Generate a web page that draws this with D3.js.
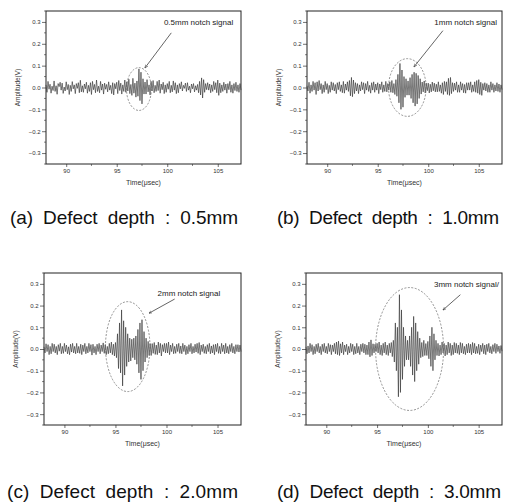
<!DOCTYPE html>
<html><head><meta charset="utf-8">
<script src="https://cdn.jsdelivr.net/npm/d3@7"></script>
<style>body{margin:0;background:#fff}svg{display:block}</style>
</head><body>
<svg id="c" width="505" height="503"></svg>
<script>
// ---- data (sampled every 0.1 µs starting at 88.0 µs) ----
const sampleStart = 88.0, sampleStep = 0.1;
const xTicks = [90, 95, 100, 105];
const yTicks = [-0.3, -0.2, -0.1, 0.0, 0.1, 0.2, 0.3];
const captions = ["(a) Defect depth : 0.5mm", "(b) Defect depth : 1.0mm", "(c) Defect depth : 2.0mm", "(d) Defect depth : 3.0mm"];
const notes = ["0.5mm notch signal", "1mm notch signal", "2mm notch signal", "3mm notch signal/"];

const signalA = [
 .012,-.022,.028,-.008,.015,-.026,.006,-.014,.030,-.018,
 .008,-.031,.018,.004,.024,-.012,.020,-.027,.002,-.016,
 .026,-.010,.014,-.032,.010,-.018,.027,-.006,.012,-.028,
 .018,-.004,.022,-.024,.033,-.020,.008,-.022,.016,-.006,
 .024,-.026,.010,-.018,.022,-.032,.028,-.010,.014,-.024,
 .034,-.018,.006,-.024,.028,-.012,.016,-.030,.020,-.008,
 .014,-.020,.026,-.012,.010,-.028,.022,-.034,.018,-.006,
 .024,-.028,.032,-.014,.020,-.030,.012,-.018,.034,-.022,
 .026,-.016,.038,-.028,.014,-.036,.042,-.026,.020,-.044,
 .030,-.040,.085,-.060,.070,-.075,.040,-.030,.025,-.030,
 .036,-.020,.012,-.034,.028,-.016,.032,-.024,.010,-.018,
 .028,-.014,.034,-.026,.016,-.010,.024,-.028,.012,-.022,
 .018,-.008,.028,-.024,.010,-.020,.030,-.012,.022,-.028,
 .012,-.024,.018,-.006,.026,-.016,.010,-.004,.020,-.018,
 .022,-.012,.006,-.024,.016,-.006,.018,-.020,.008,-.012,
 .014,-.024,.028,-.034,.044,-.048,.036,-.022,.018,-.010,
 .022,-.012,.016,-.024,.012,-.018,.028,-.010,.022,-.024,
 .034,-.036,.020,-.024,.012,-.018,.024,-.012,.016,-.026,
 .018,-.010,.028,-.022,.012,-.026,.018,-.014,.024,-.018,
 .012,-.022,.018,-.012];

const signalB = [
 .008,-.016,.024,-.026,.012,-.018,.028,-.012,.022,-.032,
 .026,-.016,.032,-.010,.018,-.028,.012,-.022,.028,-.010,
 .018,-.028,.010,-.022,.026,-.012,.022,-.016,.014,-.028,
 .022,-.010,.026,-.018,.012,-.024,.028,-.026,.016,-.012,
 .026,-.018,.032,-.038,.046,-.042,.034,-.028,.022,-.016,
 .018,-.028,.012,-.016,.026,-.010,.022,-.028,.018,-.012,
 .028,-.018,.010,-.026,.022,-.012,.026,-.022,.016,-.012,
 .022,-.028,.016,-.010,.026,-.022,.012,-.018,.028,-.020,
 .018,-.012,.026,-.022,.032,-.024,.018,-.032,.036,-.040,
 .060,-.070,.110,-.100,.080,-.090,.050,-.045,.040,-.035,
 .030,-.035,.045,-.050,.060,-.070,.070,-.085,.065,-.075,
 .055,-.050,.040,-.030,.025,-.020,.030,-.025,.020,-.015,
 .020,-.025,.015,-.020,.025,-.015,.020,-.020,.015,-.020,
 .026,-.018,.012,-.026,.022,-.032,.028,-.018,.026,-.032,
 .042,-.036,.046,-.028,.022,-.018,.020,-.012,.026,-.022,
 .012,-.022,.026,-.012,.018,-.024,.014,-.026,.022,-.012,
 .022,-.012,.026,-.022,.012,-.018,.026,-.022,.032,-.026,
 .036,-.032,.024,-.036,.018,-.012,.022,-.016,.018,-.022,
 .012,-.022,.026,-.012,.018,-.022,.012,-.016,.022,-.018,
 .016,-.022,.012,-.010];

const signalC = [
 .010,-.018,.024,-.012,.020,-.026,.012,-.022,.026,-.012,
 .022,-.018,.012,-.026,.020,-.010,.026,-.022,.012,-.020,
 .026,-.012,.018,-.022,.010,-.026,.022,-.014,.026,-.018,
 .012,-.022,.026,-.018,.012,-.020,.022,-.026,.018,-.012,
 .026,-.022,.012,-.018,.026,-.012,.020,-.028,.022,-.018,
 .012,-.026,.022,-.012,.026,-.022,.018,-.012,.028,-.020,
 .020,-.026,.012,-.022,.026,-.018,.032,-.026,.022,-.032,
 .030,-.040,.070,-.090,.120,-.110,.180,-.170,.130,-.120,
 .100,-.080,.070,-.060,.050,-.055,.045,-.040,.050,-.050,
 .060,-.070,.090,-.110,.120,-.140,.135,-.100,.080,-.060,
 .050,-.040,.035,-.030,.025,-.030,.025,-.020,.030,-.025,
 .018,-.026,.032,-.018,.026,-.032,.020,-.012,.026,-.018,
 .026,-.018,.032,-.026,.018,-.012,.026,-.022,.012,-.020,
 .022,-.012,.026,-.020,.014,-.022,.026,-.012,.018,-.026,
 .012,-.022,.020,-.012,.026,-.022,.012,-.018,.022,-.014,
 .026,-.020,.030,-.026,.018,-.012,.022,-.020,.012,-.022,
 .020,-.012,.026,-.022,.014,-.018,.020,-.026,.022,-.012,
 .026,-.020,.012,-.022,.026,-.012,.018,-.022,.026,-.018,
 .012,-.022,.020,-.012,.026,-.018,.012,-.022,.020,-.012,
 .020,-.014,.018,-.012];

const signalD = [
 .010,-.022,.014,-.018,.026,-.012,.020,-.026,.012,-.022,
 .022,-.012,.026,-.018,.012,-.026,.022,-.012,.026,-.018,
 .012,-.022,.026,-.012,.020,-.026,.018,-.012,.026,-.022,
 .032,-.026,.036,-.030,.024,-.018,.032,-.026,.018,-.012,
 .022,-.026,.012,-.018,.026,-.012,.022,-.026,.012,-.022,
 .026,-.018,.012,-.026,.022,-.012,.026,-.018,.022,-.026,
 .018,-.026,.032,-.036,.042,-.030,.024,-.018,.022,-.012,
 .026,-.018,.032,-.026,.018,-.030,.026,-.018,.032,-.026,
 .018,-.030,.026,-.018,.030,-.035,.040,-.060,.120,-.100,
 .100,-.220,.250,-.200,.180,-.140,.100,-.080,.060,-.050,
 .040,-.050,.060,-.080,.100,-.120,.150,-.150,.120,-.100,
 .080,-.070,.050,-.040,.030,-.035,.040,-.030,.025,-.030,
 .035,-.045,.060,-.080,.100,-.100,.070,-.050,.040,-.030,
 .026,-.032,.018,-.026,.032,-.018,.026,-.032,.018,-.026,
 .032,-.018,.026,-.030,.018,-.026,.030,-.018,.026,-.020,
 .018,-.026,.030,-.018,.026,-.022,.012,-.026,.022,-.018,
 .026,-.018,.022,-.026,.030,-.018,.026,-.022,.012,-.020,
 .022,-.026,.018,-.012,.026,-.022,.018,-.026,.022,-.012,
 .026,-.018,.012,-.022,.020,-.012,.026,-.020,.022,-.012,
 .014,-.020,.016,-.010];

// annotation ellipses (data units: centre time, centre V, half-width µs, half-height V)
const ellipses = [
  {cx: 97.2, cy: -0.007, rx: 1.23, ry: 0.098},
  {cx: 97.93, cy: 0.0, rx: 1.86, ry: 0.132},
  {cx: 96.2, cy: 0.011, rx: 2.18, ry: 0.207},
  {cx: 98.2, cy: 0.0, rx: 3.35, ry: 0.283}];
const noteAnchors = [
  {tx: 103.1, ty: 0.30, x1: 100.4, y1: 0.25, x2: 97.8, y2: 0.09},
  {tx: 103.7, ty: 0.30, x1: 101.45, y1: 0.26, x2: 98.6, y2: 0.095},
  {tx: 102.2, ty: 0.255, x1: 100.8, y1: 0.23, x2: 98.3, y2: 0.165},
  {tx: 103.8, ty: 0.30, x1: 103.2, y1: 0.25, x2: 101.5, y2: 0.18}];

const signals = [signalA, signalB, signalC, signalD];

// ---- layout ----
const panels = [
  {l: 46, r: 241, t: 11, b: 164, cap: {x: 10, y: 224, w: 228}},
  {l: 307, r: 502, t: 11, b: 164, cap: {x: 277, y: 224, w: 222}},
  {l: 44, r: 241, t: 273, b: 425, cap: {x: 7, y: 498, w: 231}},
  {l: 306, r: 502, t: 273, b: 425, cap: {x: 277, y: 498, w: 224}}];

const svg = d3.select("#c");
svg.append("defs").append("marker").attr("id", "ah").attr("viewBox", "0 0 10 10")
  .attr("refX", 9).attr("refY", 5).attr("markerWidth", 5).attr("markerHeight", 5)
  .attr("orient", "auto").append("path").attr("d", "M0,1L10,5L0,9").attr("fill", "none")
  .attr("stroke", "#222").attr("stroke-width", 1.2);

panels.forEach((p, i) => {
  const x = d3.scaleLinear().domain([88, 107.3]).range([p.l, p.r]);
  const y = d3.scaleLinear().domain([-0.35, 0.35]).range([p.b, p.t]);
  const g = svg.append("g");

  // axes
  const yAx = d3.axisLeft(y).tickValues(yTicks).tickSize(4).tickPadding(1.5)
    .tickFormat(d3.format(".1f"));
  const gy = g.append("g").attr("transform", `translate(${p.l},0)`).call(yAx);
  const xAx = d3.axisBottom(x).tickValues(xTicks).tickSize(3).tickPadding(2);
  const gx = g.append("g").attr("transform", `translate(0,${p.b})`).call(xAx);
  [gy, gx].forEach(a => {
    a.select(".domain").remove();
    a.selectAll("line").attr("stroke", "#333").attr("stroke-width", 0.7);
    a.selectAll("text").attr("font-family", "Liberation Sans, Arial, sans-serif")
      .attr("font-size", 6).attr("fill", "#333");
  });
  // minor ticks
  const minorY = d3.range(-0.35, 0.351, 0.05).filter(v => Math.abs(Math.round(v * 10) - v * 10) > 0.1);
  g.append("g").selectAll("line").data(minorY).join("line")
    .attr("x1", p.l - 2).attr("x2", p.l).attr("y1", d => y(d)).attr("y2", d => y(d))
    .attr("stroke", "#333").attr("stroke-width", 0.6);
  const minorX = [92.5, 97.5, 102.5];
  g.append("g").selectAll("line").data(minorX).join("line")
    .attr("y1", p.b).attr("y2", p.b + 2).attr("x1", d => x(d)).attr("x2", d => x(d))
    .attr("stroke", "#333").attr("stroke-width", 0.6);

  // frame
  g.append("rect").attr("x", p.l).attr("y", p.t).attr("width", p.r - p.l).attr("height", p.b - p.t)
    .attr("fill", "none").attr("stroke", "#222").attr("stroke-width", 1);

  // signal
  const line = d3.line().x((d, k) => x(sampleStart + k * sampleStep)).y(d => y(d));
  g.append("path").datum(signals[i]).attr("d", line).attr("fill", "none")
    .attr("stroke", "#333").attr("stroke-width", 0.65);

  // ellipse
  const e = ellipses[i];
  g.append("ellipse").attr("cx", x(e.cx)).attr("cy", y(e.cy))
    .attr("rx", x(e.cx + e.rx) - x(e.cx)).attr("ry", y(e.cy) - y(e.cy + e.ry))
    .attr("fill", "none").attr("stroke", "#666").attr("stroke-width", 0.7)
    .attr("stroke-dasharray", "2,1.5");

  // note
  const n = noteAnchors[i];
  g.append("text").attr("x", x(n.tx)).attr("y", y(n.ty)).attr("dy", "0.35em")
    .attr("text-anchor", "middle").attr("font-family", "Liberation Sans, Arial, sans-serif")
    .attr("font-size", 8).attr("fill", "#222").text(notes[i]);
  g.append("line").attr("x1", x(n.x1)).attr("y1", y(n.y1)).attr("x2", x(n.x2)).attr("y2", y(n.y2))
    .attr("stroke", "#222").attr("stroke-width", 0.7).attr("marker-end", "url(#ah)");

  // axis titles
  g.append("text").attr("transform", `translate(${p.l - 28},${(p.t + p.b) / 2}) rotate(-90)`)
    .attr("text-anchor", "middle").attr("dy", "0.35em")
    .attr("font-family", "Liberation Sans, Arial, sans-serif").attr("font-size", 6.5)
    .attr("fill", "#333").text("Amplitude(V)");
  g.append("text").attr("x", (p.l + p.r) / 2).attr("y", p.b + 21)
    .attr("text-anchor", "middle").attr("font-family", "Liberation Sans, Arial, sans-serif")
    .attr("font-size", 7).attr("fill", "#333").text("Time(μsec)");

  // caption
  svg.append("text").attr("x", p.cap.x).attr("y", p.cap.y)
    .attr("font-family", "Liberation Sans Narrow, Liberation Sans, Arial, sans-serif")
    .attr("font-size", 19).style("word-spacing", "5px")
    .attr("fill", "#111").attr("textLength", p.cap.w).attr("lengthAdjust", "spacing")
    .text(captions[i]);
});
</script>
</body></html>
